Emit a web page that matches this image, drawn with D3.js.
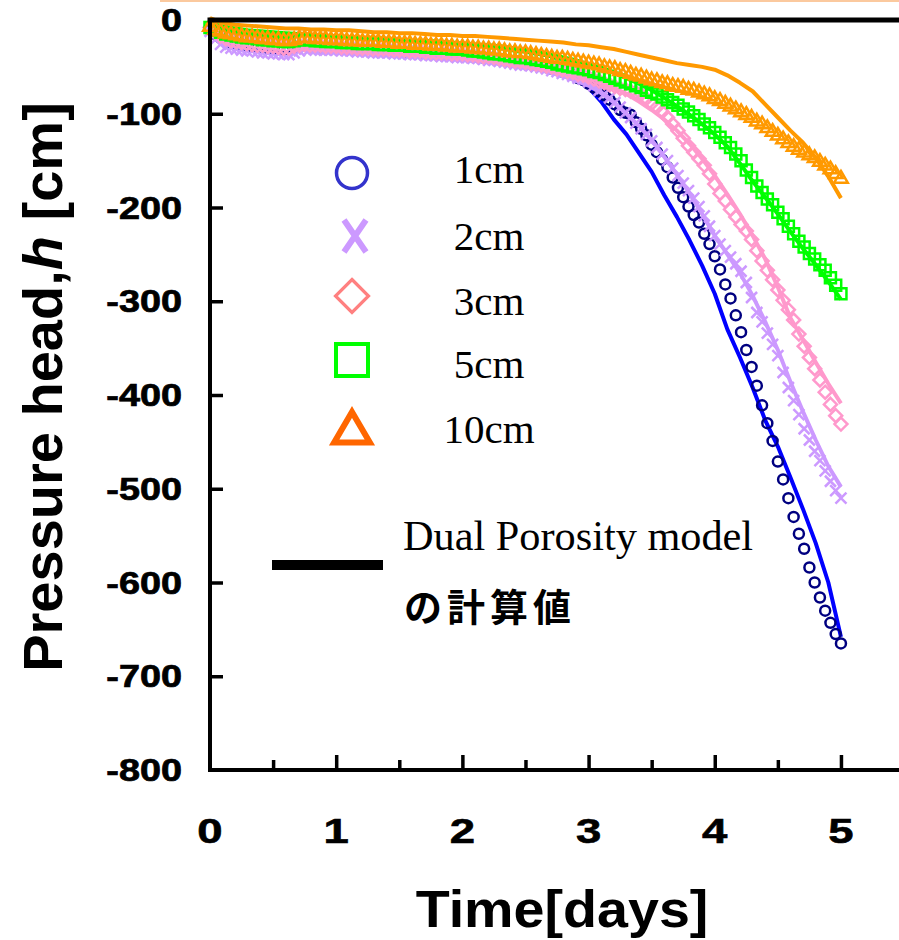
<!DOCTYPE html>
<html>
<head>
<meta charset="utf-8">
<script src="https://cdn.jsdelivr.net/npm/d3@7/dist/d3.min.js"></script>
<style>
  body { margin: 0; background: #fff; }
  svg { display: block; }
</style>
</head>
<body>
<svg id="chart" width="899" height="940"></svg>
<script>
// observed values, one reading per hour
const obsHours = [
    0, 1, 2, 3, 4, 5, 6, 7, 8, 9, 10, 11,
    12, 13, 14, 15, 16, 17, 18, 19, 20, 21, 22, 23,
    24, 25, 26, 27, 28, 29, 30, 31, 32, 33, 34, 35,
    36, 37, 38, 39, 40, 41, 42, 43, 44, 45, 46, 47,
    48, 49, 50, 51, 52, 53, 54, 55, 56, 57, 58, 59,
    60, 61, 62, 63, 64, 65, 66, 67, 68, 69, 70, 71,
    72, 73, 74, 75, 76, 77, 78, 79, 80, 81, 82, 83,
    84, 85, 86, 87, 88, 89, 90, 91, 92, 93, 94, 95,
    96, 97, 98, 99, 100, 101, 102, 103, 104, 105, 106, 107,
    108, 109, 110, 111, 112, 113, 114, 115, 116, 117, 118, 119,
    120
];
const obs1cm = [
    -10, -15, -19, -22, -24, -25, -26, -27, -28, -28, -29, -30,
    -30, -31, -31, -31, -30, -28, -27, -28, -28, -29, -29, -29,
    -29, -30, -30, -30, -31, -31, -31, -32, -32, -32, -32, -33,
    -33, -34, -34, -34, -35, -35, -35, -36, -36, -37, -37, -37,
    -37, -38, -39, -39, -40, -40, -41, -42, -43, -44, -44, -45,
    -46, -47, -48, -49, -50, -52, -53, -55, -56, -58, -62, -64,
    -68, -72, -76, -80, -85, -90, -96, -99, -101, -109, -116, -123,
    -133, -141, -149, -157, -168, -179, -189, -199, -208, -216, -228, -239,
    -252, -266, -282, -297, -315, -333, -352, -370, -390, -411, -430, -449,
    -471, -490, -510, -530, -548, -564, -584, -600, -616, -630, -643, -655,
    -665
];
const obs2cm = [
    -12, -21, -26, -29, -30, -31, -32, -33, -33, -34, -35, -35,
    -36, -36, -37, -37, -35, -33, -31, -31, -32, -32, -32, -32,
    -32, -33, -33, -33, -34, -34, -34, -35, -35, -35, -35, -36,
    -36, -36, -37, -37, -37, -38, -38, -38, -39, -39, -39, -40,
    -40, -40, -41, -41, -42, -43, -43, -44, -45, -46, -47, -48,
    -48, -49, -50, -51, -52, -54, -55, -57, -58, -60, -62, -63,
    -66, -70, -75, -79, -83, -88, -93, -99, -104, -110, -116, -122,
    -129, -136, -143, -150, -158, -166, -174, -182, -190, -199, -209, -220,
    -230, -239, -246, -253, -260, -268, -280, -296, -312, -322, -334, -346,
    -358, -376, -392, -406, -421, -436, -448, -460, -470, -481, -492, -502,
    -510
];
const obs3cm = [
    -8, -13, -17, -20, -22, -23, -24, -25, -26, -27, -27, -28,
    -28, -29, -30, -30, -28, -27, -26, -27, -27, -27, -28, -28,
    -28, -29, -29, -29, -30, -30, -30, -31, -31, -31, -31, -32,
    -32, -32, -33, -33, -33, -34, -34, -35, -35, -35, -36, -36,
    -36, -37, -37, -38, -39, -39, -40, -41, -42, -43, -44, -44,
    -45, -46, -47, -48, -49, -50, -52, -53, -55, -56, -58, -59,
    -61, -63, -65, -67, -69, -71, -73, -74, -76, -77, -79, -84,
    -89, -93, -98, -104, -111, -118, -126, -134, -141, -148, -155, -164,
    -175, -185, -193, -202, -210, -218, -225, -234, -246, -257, -267, -277,
    -288, -299, -309, -320, -335, -348, -360, -372, -384, -397, -410, -422,
    -431
];
const obs5cm = [
    -8, -11, -13, -15, -16, -17, -18, -19, -19, -20, -21, -21,
    -22, -22, -23, -23, -22, -21, -21, -21, -22, -22, -23, -23,
    -23, -24, -24, -24, -25, -25, -25, -25, -26, -26, -26, -27,
    -27, -27, -28, -28, -28, -29, -29, -30, -30, -30, -31, -31,
    -31, -32, -33, -33, -34, -35, -36, -36, -37, -38, -39, -40,
    -40, -41, -42, -43, -44, -45, -47, -48, -49, -50, -51, -52,
    -53, -55, -56, -58, -60, -62, -64, -66, -68, -70, -72, -75,
    -77, -79, -82, -85, -88, -91, -95, -98, -102, -106, -111, -115,
    -120, -125, -131, -136, -143, -150, -160, -168, -177, -184, -191, -197,
    -205, -212, -220, -228, -236, -242, -249, -255, -261, -267, -275, -283,
    -292
];
const obs10cm = [
    -6, -9, -11, -13, -14, -15, -16, -17, -17, -18, -19, -19,
    -20, -20, -21, -21, -20, -18, -18, -18, -19, -19, -19, -20,
    -20, -20, -21, -21, -21, -22, -22, -22, -22, -23, -23, -23,
    -24, -24, -24, -25, -25, -25, -26, -26, -26, -27, -27, -28,
    -28, -28, -29, -29, -30, -30, -31, -31, -32, -33, -33, -34,
    -34, -35, -36, -37, -38, -39, -40, -40, -41, -42, -43, -44,
    -45, -46, -47, -49, -50, -51, -53, -54, -56, -58, -59, -61,
    -63, -64, -66, -67, -69, -70, -71, -73, -74, -76, -78, -80,
    -83, -85, -88, -91, -94, -97, -100, -103, -107, -110, -114, -118,
    -122, -126, -130, -134, -137, -140, -143, -146, -150, -154, -158, -163,
    -168
];

// Dual Porosity model, every 0.1 day
const modelDays = [
    0, 0.1, 0.2, 0.3, 0.4, 0.5, 0.6, 0.7, 0.8, 0.9,
    1, 1.1, 1.2, 1.3, 1.4, 1.5, 1.6, 1.7, 1.8, 1.9,
    2, 2.1, 2.2, 2.3, 2.4, 2.5, 2.6, 2.7, 2.8, 2.9,
    3, 3.1, 3.2, 3.3, 3.4, 3.5, 3.6, 3.7, 3.8, 3.9,
    4, 4.1, 4.2, 4.3, 4.4, 4.5, 4.6, 4.7, 4.8, 4.9,
    5
];
const model1cm = [
    -5, -12, -16, -19, -21, -23, -24, -25, -26, -27,
    -28, -29, -30, -30, -31, -32, -33, -34, -35, -36,
    -37, -38, -40, -42, -44, -47, -50, -54, -58, -64,
    -72, -87, -106, -122, -142, -162, -187, -210, -235, -262,
    -292, -330, -360, -392, -427, -455, -488, -522, -558, -600,
    -658
];
const model2cm = [
    -6, -14, -19, -22, -24, -26, -27, -28, -29, -30,
    -31, -32, -33, -33, -34, -35, -36, -37, -38, -39,
    -40, -41, -43, -45, -47, -50, -53, -56, -60, -65,
    -70, -78, -88, -100, -113, -128, -146, -165, -185, -207,
    -230, -250, -270, -294, -322, -352, -386, -418, -448, -476,
    -498
];
const model3cm = [
    -5, -12, -16, -19, -21, -22, -23, -24, -25, -26,
    -27, -28, -28, -29, -30, -31, -32, -33, -34, -35,
    -36, -37, -38, -40, -42, -44, -46, -49, -52, -56,
    -61, -66, -72, -79, -87, -96, -106, -118, -132, -148,
    -166, -186, -207, -230, -255, -285, -318, -341, -365, -388,
    -409
];
const model5cm = [
    -3, -7, -9, -11, -12, -13, -14, -15, -16, -17,
    -17, -18, -19, -19, -20, -21, -22, -22, -23, -24,
    -25, -26, -27, -28, -30, -32, -34, -37, -40, -43,
    -47, -51, -56, -62, -68, -75, -83, -92, -101, -111,
    -122, -135, -153, -172, -189, -207, -226, -244, -261, -279,
    -298
];
const model10cm = [
    2, -3, -5, -6, -7, -8, -9, -9, -10, -10,
    -11, -11, -12, -13, -13, -14, -14, -15, -16, -16,
    -17, -17, -18, -19, -20, -21, -22, -23, -24, -26,
    -27, -29, -31, -34, -37, -40, -43, -46, -48, -50,
    -53, -59, -67, -76, -90, -104, -118, -131, -147, -167,
    -190
];

const depthLabels = ['1cm', '2cm', '3cm', '5cm', '10cm'];
const xTicks = [0, 1, 2, 3, 4, 5];
const xMinorTicks = [0.5, 1.5, 2.5, 3.5, 4.5];
const yTicks = [0, -100, -200, -300, -400, -500, -600, -700, -800];

const series = [
    { obs: obs1cm, model: model1cm, shape: 'circle', mark: '#000080', line: '#0000ff', key: '#3333cc' },
    { obs: obs2cm, model: model2cm, shape: 'cross', mark: '#cc99ff', line: '#cc99ff', key: '#cc99ff' },
    { obs: obs3cm, model: model3cm, shape: 'diamond', mark: '#ff99cc', line: '#ff99cc', key: '#ff8080' },
    { obs: obs5cm, model: model5cm, shape: 'square', mark: '#00ff00', line: '#00ff00', key: '#00ff00' },
    { obs: obs10cm, model: model10cm, shape: 'triangle', mark: '#ff9900', line: '#ff9900', key: '#ff6600' }
];

const svg = d3.select('#chart');
const sans = '"Liberation Sans", Arial, sans-serif';
const serif = '"Liberation Serif", "Times New Roman", serif';

const x = d3.scaleLinear().domain([0, 5.46]).range([210, 899]);
const y = d3.scaleLinear().domain([-800, 0]).range([770, 20]);

function shapePath(shape, s) {
    if (shape === 'cross') return `M${-s},${-s}L${s},${s}M${-s},${s}L${s},${-s}`;
    if (shape === 'diamond') return `M0,${-s}L${s},0L0,${s}L${-s},0Z`;
    if (shape === 'square') return `M${-s},${-s}H${s}V${s}H${-s}Z`;
    if (shape === 'triangle') return `M0,${-s}L${s * 1.05},${s * 0.8}H${-s * 1.05}Z`;
    return null;
}

// thin peach rule along the very top
svg.append('line')
    .attr('x1', 160).attr('x2', 899).attr('y1', 1).attr('y2', 1)
    .attr('stroke', '#fbc99e').attr('stroke-width', 2);

// data
const line = d3.line().x((d) => x(d[0])).y((d) => y(d[1]));
series.forEach((s) => {
    const pts = modelDays.map((t, i) => [t, s.model[i]]);
    svg.append('path').datum(pts)
        .attr('fill', 'none').attr('stroke', s.line).attr('stroke-width', 4)
        .attr('stroke-linejoin', 'round').attr('d', line);

    const obs = obsHours.map((h, i) => [h / 24, s.obs[i]]);
    const g = svg.append('g');
    if (s.shape === 'circle') {
        g.selectAll('circle').data(obs).enter().append('circle')
            .attr('cx', (d) => x(d[0])).attr('cy', (d) => y(d[1])).attr('r', 5)
            .attr('fill', 'none').attr('stroke', s.mark).attr('stroke-width', 2.5);
    } else {
        const size = { cross: 5.5, diamond: 6.5, square: 5.5, triangle: 6.5 }[s.shape];
        g.selectAll('path').data(obs).enter().append('path')
            .attr('transform', (d) => `translate(${x(d[0])},${y(d[1])})`)
            .attr('d', shapePath(s.shape, size))
            .attr('fill', 'none').attr('stroke', s.mark).attr('stroke-width', 2.5);
    }
});

// axes
const frame = svg.append('g').attr('stroke', '#000').attr('stroke-linecap', 'square');
frame.append('line').attr('x1', x(0)).attr('x2', 899).attr('y1', y(0)).attr('y2', y(0)).attr('stroke-width', 5);
frame.append('line').attr('x1', x(0)).attr('x2', 899).attr('y1', y(-800)).attr('y2', y(-800)).attr('stroke-width', 4);
frame.append('line').attr('x1', x(0)).attr('x2', x(0)).attr('y1', y(0)).attr('y2', y(-800)).attr('stroke-width', 4);

const xMajor = svg.append('g').attr('transform', `translate(0,${y(-800)})`)
    .call(d3.axisBottom(x).tickValues(xTicks.slice(1)).tickSize(-15).tickFormat(''));
const xMinor = svg.append('g').attr('transform', `translate(0,${y(-800)})`)
    .call(d3.axisBottom(x).tickValues(xMinorTicks).tickSize(-10).tickFormat(''));
const yAxis = svg.append('g').attr('transform', `translate(${x(0)},0)`)
    .call(d3.axisLeft(y).tickValues(yTicks.slice(1, -1)).tickSize(-13).tickFormat(''));
[xMajor, xMinor, yAxis].forEach((a) => {
    a.select('.domain').remove();
    a.selectAll('.tick line').attr('stroke', '#000').attr('stroke-width', 3.5);
});

// tick labels are drawn wide and heavy, as in the original
svg.append('g').selectAll('text').data(yTicks).enter().append('text')
    .attr('transform', (d) => `translate(182,${y(d) + 11}) scale(1.24,1)`)
    .attr('text-anchor', 'end')
    .attr('font-family', sans).attr('font-weight', 'bold').attr('font-size', 30.5)
    .attr('stroke', '#000').attr('stroke-width', 0.7)
    .text((d) => d);

svg.append('g').selectAll('text').data(xTicks).enter().append('text')
    .attr('transform', (d) => `translate(${x(d)},843) scale(1.3,1)`)
    .attr('text-anchor', 'middle')
    .attr('font-family', sans).attr('font-weight', 'bold').attr('font-size', 35)
    .attr('stroke', '#000').attr('stroke-width', 0.6)
    .text((d) => d);

svg.append('text')
    .attr('transform', 'translate(562,927) scale(1.07,1)')
    .attr('text-anchor', 'middle')
    .attr('font-family', sans).attr('font-weight', 'bold').attr('font-size', 52)
    .text('Time[days]');

const yTitle = svg.append('text')
    .attr('transform', 'translate(62,387) rotate(-90)')
    .attr('text-anchor', 'middle')
    .attr('font-family', sans).attr('font-weight', 'bold').attr('font-size', 56);
yTitle.append('tspan').text('Pressure head,');
yTitle.append('tspan').attr('font-style', 'italic').text('h');
yTitle.append('tspan').text(' [cm]');

// legend
const keyRows = [173, 236, 296, 360, 426];
const keyBase = [183, 250, 315, 378, 443];
const legend = svg.append('g');
series.forEach((s, i) => {
    if (s.shape === 'circle') {
        legend.append('circle').attr('cx', 352).attr('cy', keyRows[i]).attr('r', 15.5)
            .attr('fill', 'none').attr('stroke', s.key).attr('stroke-width', 3.5);
    } else if (s.shape === 'cross') {
        legend.append('path').attr('transform', `translate(355,${keyRows[i]})`)
            .attr('d', 'M-11,-16L11,16M-11,16L11,-16')
            .attr('fill', 'none').attr('stroke', s.key).attr('stroke-width', 6);
    } else {
        const sz = { diamond: 16.5, square: 16, triangle: 17 }[s.shape];
        const sw = { diamond: 3.2, square: 4, triangle: 6 }[s.shape];
        legend.append('path').attr('transform', `translate(352,${keyRows[i] + (s.shape === 'triangle' ? 3 : 0)})`)
            .attr('d', shapePath(s.shape, sz))
            .attr('fill', 'none').attr('stroke', s.key).attr('stroke-width', sw)
            .attr('stroke-linejoin', 'miter');
    }
    legend.append('text')
        .attr('x', 489).attr('y', keyBase[i]).attr('text-anchor', 'middle')
        .attr('font-family', serif).attr('font-size', 41)
        .text(depthLabels[i]);
});

legend.append('line').attr('x1', 272).attr('x2', 383).attr('y1', 565).attr('y2', 565)
    .attr('stroke', '#000').attr('stroke-width', 10);
legend.append('text')
    .attr('x', 403).attr('y', 550)
    .attr('font-family', serif).attr('font-size', 42.3)
    .text('Dual Porosity model');
legend.append('text')
    .attr('x', 404).attr('y', 621)
    .attr('font-family', '"Noto Sans CJK JP", sans-serif').attr('font-weight', 'bold')
    .attr('font-size', 38).attr('letter-spacing', 5)
    .text('の計算値');
</script>
</body>
</html>
